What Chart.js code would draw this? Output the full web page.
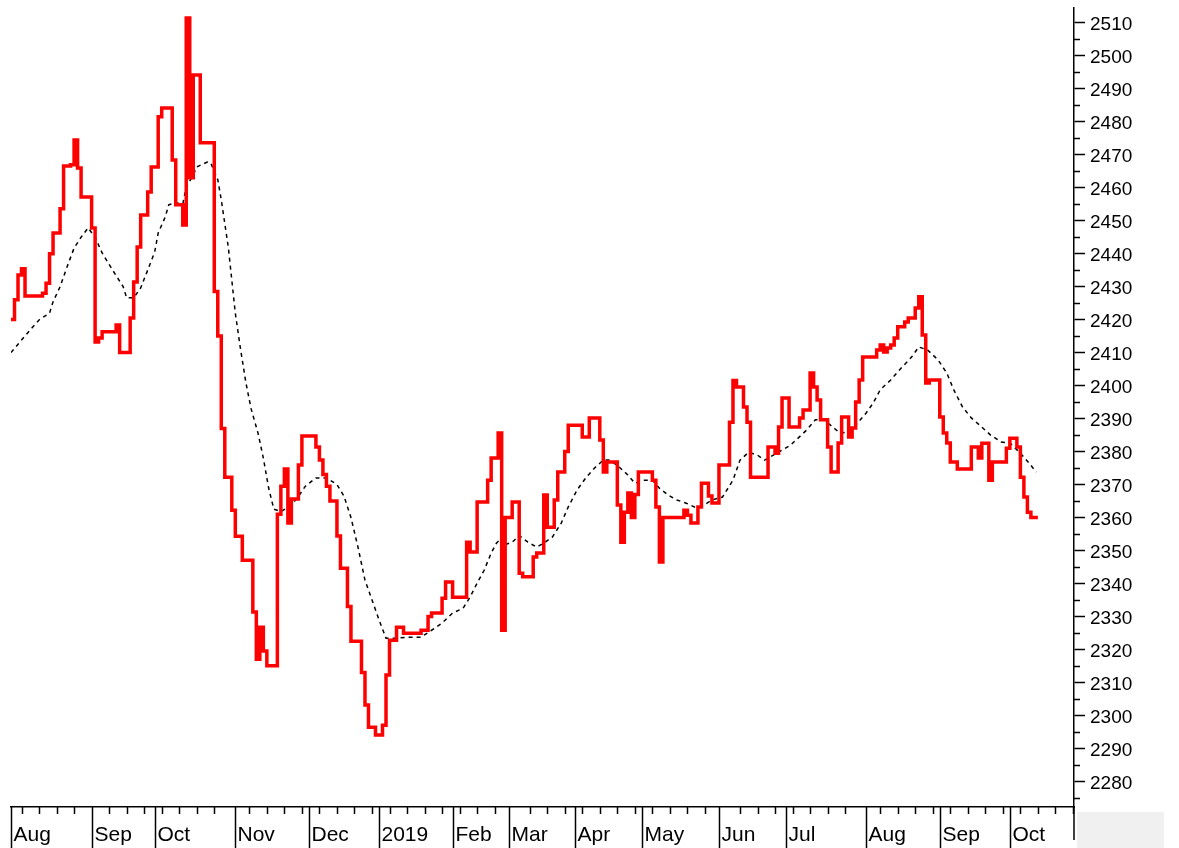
<!DOCTYPE html>
<html>
<head>
<meta charset="utf-8">
<script src="https://cdn.jsdelivr.net/npm/chart.js@4.4.1/dist/chart.umd.min.js"></script>
<style>
  html, body { margin: 0; padding: 0; background: #fff; }
</style>
</head>
<body>
<canvas id="chart" width="1179" height="848"></canvas>
<script>
// trading-day index -> closing value (only the days where the value changes)
const priceDays = [0, 1, 2, 3, 4, 9, 10, 11, 12, 14, 15, 17, 18, 19, 20, 23, 24, 25, 26, 30, 31, 34, 35, 36, 37, 39, 40, 42, 43, 46, 47, 49, 50, 51, 52, 54, 58, 59, 60, 61, 63, 64, 66, 69, 70, 71, 72, 73, 76, 77, 78, 79, 80, 82, 83, 87, 88, 89, 90, 91, 93, 94, 96, 97, 100, 101, 102, 104, 106, 107, 108, 110, 112, 117, 119, 120, 123, 124, 126, 130, 131, 133, 136, 137, 139, 140, 141, 143, 145, 146, 149, 150, 152, 153, 155, 156, 158, 159, 163, 165, 168, 169, 170, 173, 174, 175, 176, 177, 178, 179, 183, 184, 185, 186, 192, 193, 194, 196, 197, 199, 200, 202, 205, 206, 207, 209, 210, 211, 216, 218, 219, 220, 222, 225, 226, 228, 229, 230, 231, 233, 234, 236, 237, 239, 240, 241, 242, 243, 247, 248, 249, 250, 251, 252, 253, 255, 256, 258, 259, 260, 261, 262, 265, 266, 267, 268, 270, 274, 276, 277, 279, 280, 284, 285, 287, 288, 289, 290, 291, 293]
const priceValues = [2420, 2426, 2433.5, 2435.4, 2427.2, 2428, 2431, 2440, 2446.3, 2453.6, 2466.6, 2467, 2474.5, 2466, 2457.2, 2447.8, 2413.2, 2414.4, 2416.3, 2418.4, 2410, 2420.5, 2431.4, 2442, 2451.7, 2458.7, 2466.3, 2481.5, 2484.2, 2468.4, 2454.8, 2448.7, 2511.5, 2463, 2494.2, 2473.6, 2428.5, 2415, 2387, 2372.2, 2362.2, 2354.3, 2347, 2331.3, 2317, 2326.7, 2319.5, 2315, 2361, 2369.5, 2374.7, 2358.3, 2365.6, 2375.9, 2384.7, 2381.4, 2377.4, 2373, 2369.5, 2365, 2354.4, 2344.6, 2333, 2322.5, 2313, 2303.1, 2296.4, 2294, 2297, 2312.2, 2322.8, 2326.7, 2324.9, 2325.8, 2330, 2331, 2335.5, 2340.4, 2335.8, 2352.5, 2349.5, 2364.7, 2371.3, 2378, 2385.6, 2325.8, 2360, 2364.7, 2343.1, 2342, 2348, 2349.2, 2366.8, 2357, 2365.3, 2373.8, 2380, 2388, 2384.4, 2390.2, 2383.5, 2373.8, 2376.8, 2363.8, 2352.5, 2361.6, 2367.4, 2360, 2367, 2373.8, 2371.3, 2363.2, 2346.5, 2360, 2362.2, 2360.7, 2358.3, 2363.2, 2370.4, 2366.5, 2364.4, 2375.9, 2388.9, 2401.5, 2399.6, 2393.5, 2388.9, 2372.2, 2381.4, 2379.5, 2387.4, 2396.2, 2387.4, 2390.2, 2392.6, 2403.8, 2399.6, 2395.6, 2389.6, 2381.4, 2373.8, 2382.6, 2390.5, 2384.4, 2387.1, 2395, 2401.7, 2408.7, 2410.8, 2412.3, 2410.2, 2411.4, 2412.3, 2414.4, 2417.8, 2419.3, 2420.5, 2423.5, 2426.9, 2415.3, 2400.8, 2401.7, 2390.5, 2385.6, 2382.6, 2376.8, 2374.7, 2381.4, 2378, 2382.5, 2371.3, 2376.8, 2381, 2384, 2381.4, 2372.2, 2366.2, 2361.6, 2360, 2360]

// moving average (dashed)
const avgDays = [0, 3, 6, 8, 11, 12, 14, 16, 18, 20, 22, 24, 26, 29, 32, 33, 35, 37, 39, 41, 42, 44, 45, 47, 49, 50, 52, 53, 56, 57, 59, 60, 62, 64, 65.5, 67, 68.5, 70.5, 72, 73.5, 75, 77, 79, 81.5, 84, 87, 90, 93, 95, 97, 99, 101, 103, 105, 107, 110, 113, 117, 120, 123, 126, 129, 131, 133, 135, 137, 138.5, 140, 141, 143, 145, 147.5, 150, 152, 154.5, 157, 159, 161.5, 164, 166.5, 169, 171, 173.5, 176, 178, 180.5, 183, 185, 187.5, 190, 192.5, 195, 197, 200, 203, 206, 208, 210.5, 213, 215, 217.5, 220, 222.5, 224.5, 227, 229.5, 232, 234.5, 236.5, 239, 241.5, 244, 246, 248, 251, 254, 257, 259, 261.5, 264.5, 267, 269, 271.5, 274, 277, 279.5, 282.5, 285, 288, 290.5, 292.5]
const avgValues = [2410, 2413.8, 2417.5, 2419.9, 2422, 2425.4, 2430, 2436, 2441.7, 2445, 2447.8, 2445, 2440.2, 2435, 2430, 2426.6, 2426.6, 2429.6, 2435, 2440.5, 2446.3, 2451.1, 2454.8, 2455.4, 2455, 2460.2, 2463.9, 2466.3, 2467.8, 2467.5, 2462.4, 2456.3, 2442, 2422, 2411, 2401, 2393, 2385.5, 2378, 2369, 2362.5, 2361.8, 2363, 2365.6, 2369.5, 2372, 2372, 2370, 2366.5, 2360, 2351, 2341, 2335, 2329, 2323.4, 2323.4, 2323.7, 2323.7, 2325.8, 2328, 2331, 2332.5, 2335.9, 2340.1, 2344, 2349.2, 2352.2, 2353.8, 2351.8, 2352.5, 2354.5, 2352.5, 2351, 2352.2, 2354.1, 2358.3, 2363.2, 2368.3, 2372, 2375, 2377.4, 2377.4, 2375.3, 2372.9, 2370.4, 2371.3, 2371.3, 2368.9, 2366.8, 2365.3, 2364.4, 2363.2, 2363.3, 2365.3, 2366.2, 2371.3, 2377.4, 2379.8, 2378.9, 2377.4, 2378.9, 2380.4, 2382, 2384, 2386.5, 2389.6, 2389.6, 2387.4, 2385.6, 2385.9, 2388.6, 2391.7, 2394.7, 2398.7, 2401.7, 2405.3, 2408.7, 2411.7, 2410.8, 2407.8, 2403.8, 2398.7, 2393.5, 2390.2, 2387.4, 2385, 2382.9, 2382.6, 2379.5, 2376.5, 2373.8]

const monthLabels = ["Aug", "Sep", "Oct", "Nov", "Dec", "2019", "Feb", "Mar", "Apr", "May", "Jun", "Jul", "Aug", "Sep", "Oct"]
const monthStartDays = [0, 23, 41, 64, 85, 105, 126, 142, 161, 180, 202, 221, 244, 265, 285]
const yTickValues = [2280, 2290, 2300, 2310, 2320, 2330, 2340, 2350, 2360, 2370, 2380, 2390, 2400, 2410, 2420, 2430, 2440, 2450, 2460, 2470, 2480, 2490, 2500, 2510]

const FONT = "'Liberation Sans', Arial, sans-serif"

function points(xs, ys) {
  return xs.map((x, i) => ({ x: x, y: ys[i] }))
}

// minor ticks, month separators, month labels and the grey corner box
const axisDecor = {
  id: "axisDecor",
  afterDraw(chart) {
    const { ctx, chartArea, scales } = chart
    const xs = scales.x, ys = scales.y
    const H = chart.height
    ctx.save()

    ctx.fillStyle = "#f0f0f0"
    ctx.fillRect(chartArea.right + 3, chartArea.bottom + 5, 87, H - chartArea.bottom - 5)

    ctx.strokeStyle = "#000"
    ctx.lineWidth = 1.5
    for (const v of yTickValues) {
      const m = v - 5
      if (m < ys.min) continue
      const py = Math.round(ys.getPixelForValue(m)) + 0.5
      ctx.beginPath()
      ctx.moveTo(chartArea.right, py)
      ctx.lineTo(chartArea.right + 6, py)
      ctx.stroke()
    }

    // weekly ticks on the x axis
    for (let d = 3; d < xs.max; d += 5) {
      if (monthStartDays.some(m => Math.abs(m - d) < 1.5)) continue
      const px = Math.round(xs.getPixelForValue(d)) + 0.5
      ctx.beginPath()
      ctx.moveTo(px, chartArea.bottom)
      ctx.lineTo(px, chartArea.bottom + 7)
      ctx.stroke()
    }

    // month separators + labels
    ctx.fillStyle = "#000"
    ctx.font = "21px " + FONT
    ctx.textAlign = "left"
    ctx.textBaseline = "alphabetic"
    monthStartDays.forEach((d, i) => {
      const px = Math.round(xs.getPixelForValue(d)) + 0.5
      ctx.beginPath()
      ctx.moveTo(px, chartArea.bottom)
      ctx.lineTo(px, H)
      ctx.stroke()
      ctx.fillText(monthLabels[i], px + 2, H - 7)
    })
    ctx.beginPath()
    ctx.moveTo(chartArea.right, chartArea.bottom)
    ctx.lineTo(chartArea.right, H - 8)
    ctx.stroke()

    ctx.restore()
  }
}

new Chart(document.getElementById("chart"), {
  type: "line",
  data: {
    datasets: [
      {
        data: points(priceDays, priceValues),
        borderColor: "#ff0000",
        borderWidth: 3.5,
        stepped: true,
        pointRadius: 0,
        fill: false
      },
      {
        data: points(avgDays, avgValues),
        borderColor: "#000000",
        borderWidth: 1.5,
        borderDash: [4, 4],
        pointRadius: 0,
        tension: 0,
        fill: false
      }
    ]
  },
  options: {
    responsive: false,
    animation: false,
    devicePixelRatio: 1,
    layout: { padding: { left: 11, top: 8, right: 0, bottom: 0 } },
    plugins: {
      legend: { display: false },
      tooltip: { enabled: false }
    },
    scales: {
      x: {
        type: "linear",
        min: 0,
        max: 303.3,
        grid: { display: false },
        ticks: { display: false },
        border: { display: true, color: "#000", width: 1.5 },
        afterFit(s) { s.height = 41; s.paddingLeft = 0; s.paddingRight = 0 }
      },
      y: {
        position: "right",
        min: 2272.2,
        max: 2514.5,
        afterBuildTicks(s) { s.ticks = yTickValues.map(v => ({ value: v })) },
        grid: { drawOnChartArea: false, drawTicks: true, tickLength: 11, tickColor: "#000", tickWidth: 1.5 },
        border: { display: true, color: "#000", width: 1.5 },
        ticks: {
          color: "#000",
          padding: 5,
          labelOffset: 2,
          font: { family: FONT, size: 19 },
          callback: v => String(v)
        },
        afterFit(s) { s.width = 105; s.paddingTop = 0; s.paddingBottom = 0 }
      }
    }
  },
  plugins: [axisDecor]
})
</script>
</body>
</html>
